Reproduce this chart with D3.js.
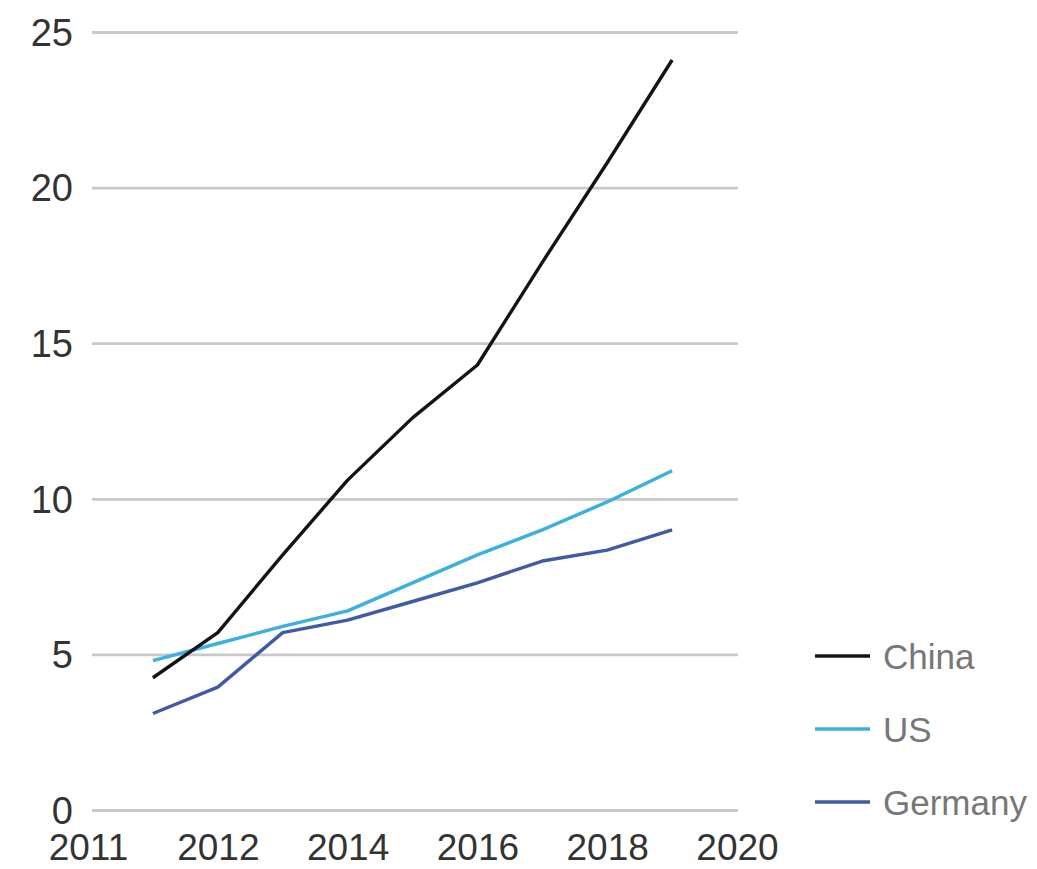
<!DOCTYPE html>
<html>
<head>
<meta charset="utf-8">
<script src="https://cdn.jsdelivr.net/npm/d3@7"></script>
<style>
html,body{margin:0;padding:0;background:#fff;}
svg{display:block;}
</style>
</head>
<body>
<svg id="chart" width="1037" height="869"></svg>
<script>
const years = [2011, 2012, 2013, 2014, 2015, 2016, 2017, 2018, 2019];
const china = [4.25, 5.7, 8.2, 10.6, 12.6, 14.3, 17.6, 20.8, 24.1];
const us = [4.8, 5.35, 5.9, 6.4, 7.3, 8.2, 9.0, 9.9, 10.9];
const germany = [3.1, 3.95, 5.7, 6.1, 6.7, 7.3, 8.0, 8.35, 9.0];
const seriesNames = ["China", "US", "Germany"];
const yTicks = [0, 5, 10, 15, 20, 25];
const xTickValues = [2010, 2012, 2014, 2016, 2018, 2020];
const xTickLabels = ["2011", "2012", "2014", "2016", "2018", "2020"];

const colors = {China: "#141414", US: "#3cb0e0", Germany: "#3f5ba6"};
const seriesData = {China: china, US: us, Germany: germany};

const svg = d3.select("#chart");
const x = d3.scaleLinear().domain([2010, 2020]).range([88, 737]);
const y = d3.scaleLinear().domain([0, 25]).range([810, 32]);

// gridlines + y labels
const yAxis = d3.axisLeft(y).tickValues(yTicks).tickSize(0).tickPadding(0);
const gy = svg.append("g").call(yAxis);
gy.select(".domain").remove();
gy.selectAll(".tick text")
  .attr("x", 73).attr("text-anchor", "end").attr("dy", "0.35em")
  .style("font-family", "'Liberation Sans', Arial, sans-serif")
  .style("font-size", "38px").attr("fill", "#333");
gy.selectAll(".tick").append("line")
  .attr("x1", 92).attr("x2", 738)
  .attr("stroke", "#c9c9c9").attr("stroke-width", 2.8);

// x axis labels
const xAxis = d3.axisBottom(x).tickValues(xTickValues).tickSize(0).tickPadding(0)
  .tickFormat((d, i) => xTickLabels[i]);
const gx = svg.append("g").attr("transform", "translate(0,860)").call(xAxis);
gx.select(".domain").remove();
gx.selectAll(".tick text")
  .attr("y", 0).attr("dy", 0)
  .style("font-family", "'Liberation Sans', Arial, sans-serif")
  .style("font-size", "37px").attr("fill", "#333");

// lines
const line = d3.line().x((d, i) => x(years[i])).y(d => y(d));
["Germany", "US", "China"].forEach(name => {
  svg.append("path")
    .datum(seriesData[name])
    .attr("d", line)
    .attr("fill", "none")
    .attr("stroke", colors[name])
    .attr("stroke-width", 3.4)
    .attr("stroke-linejoin", "round");
});

// legend
const legendY = d3.scalePoint().domain(seriesNames).range([656, 802]);
const lg = svg.append("g");
seriesNames.forEach(name => {
  const yy = legendY(name);
  lg.append("line").attr("x1", 815).attr("x2", 870).attr("y1", yy).attr("y2", yy)
    .attr("stroke", colors[name]).attr("stroke-width", 3.5);
  lg.append("text").attr("x", 883).attr("y", yy).attr("dy", "0.36em")
    .style("font-family", "'Liberation Sans', Arial, sans-serif")
    .style("font-size", "35px").attr("fill", "#777").text(name);
});
</script>
</body>
</html>
